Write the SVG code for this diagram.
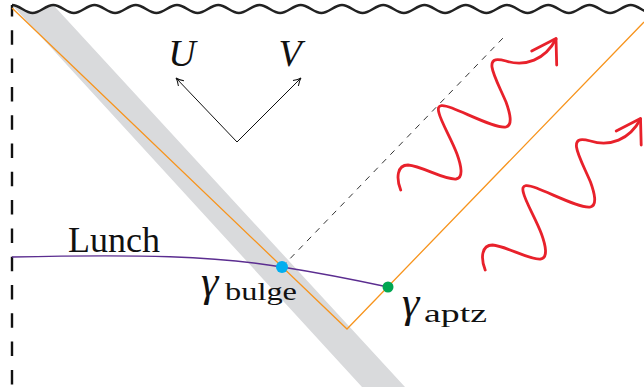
<svg xmlns="http://www.w3.org/2000/svg" xmlns:xlink="http://www.w3.org/1999/xlink" width="644" height="387" viewBox="0 0 644 387">
<style>
.orange{fill:none;stroke:#F7941D;stroke-width:1.3}
.red{fill:none;stroke:#E8212B;stroke-width:2.8;stroke-linecap:round;stroke-linejoin:round}
.lbl{font-family:"Liberation Serif","Times New Roman",serif;fill:#111}
.it{font-style:italic}
</style>
<defs>
<marker id="ah" markerUnits="userSpaceOnUse" viewBox="-9 -5 10 10" refX="0" refY="0" markerWidth="10" markerHeight="10" orient="auto">
<path d="M-7.5,-3.8 C-4.5,-1.6 -1.6,-0.3 0,0 C-1.6,0.3 -4.5,1.6 -7.5,3.8" fill="none" stroke="#111" stroke-width="1"/>
</marker>
<g id="wavearrow">
<path class="red" d="M400.7,190 C396,178 397,165 408,165 C422,166 444,180 456,179 C464,178 461,165 457,154 C452,140 441,122 439,113 C436,103 444,105 452,108 C470,115 497,129 506,127 C513,125 510,113 506,102 C500,88 493,75 492,67 C491,58 498,59 506,61 C525,67 545,60 556,39"/>
<path class="red" d="M531.7,51 L556,38.5 L556.7,65"/>
</g>
</defs>
<rect width="644" height="387" fill="#fff"/>
<g id="band">
<path d="M12,5 C19.5,5 25.1,13 32.6,13 C40.1,13 45.8,5 53.3,5 L405,387 L362,387 Z" fill="#D9DADC"/>
</g>
<g id="boundaries">
<path id="singularity" d="M12,5 C19.5,5 25.125,13 32.625,13 S45.75,5 53.25,5 S66.375,13 73.875,13 S87,5 94.5,5 S107.625,13 115.125,13 S128.25,5 135.75,5 S148.875,13 156.375,13 S169.5,5 177,5 S190.125,13 197.625,13 S210.75,5 218.25,5 S231.375,13 238.875,13 S252,5 259.5,5 S272.625,13 280.125,13 S293.25,5 300.75,5 S313.875,13 321.375,13 S334.5,5 342,5 S355.125,13 362.625,13 S375.75,5 383.25,5 S396.375,13 403.875,13 S417,5 424.5,5 S437.625,13 445.125,13 S458.25,5 465.75,5 S478.875,13 486.375,13 S499.5,5 507,5 S520.125,13 527.625,13 S540.75,5 548.25,5 S561.375,13 568.875,13 S582,5 589.5,5 S602.625,13 610.125,13 S623.25,5 630.75,5 S643.875,13 651.375,13" fill="none" stroke="#222" stroke-width="2.6"/>
<line id="origin" x1="12" y1="5" x2="12" y2="387" stroke="#111" stroke-width="2.4" stroke-dasharray="14.5 13.8" stroke-dashoffset="3"/>
</g>
<g id="connectors">
<path class="orange" d="M12,8 L347,329 L644,22"/>
<line x1="282" y1="267" x2="503" y2="38" stroke="#333" stroke-width="1" stroke-dasharray="6 6"/>
<path d="M12,257 C140,254 215,256 282,267 C320,273 360,281 388,287" fill="none" stroke="#5B2D90" stroke-width="1.3"/>
<line x1="237" y1="142" x2="176" y2="78" stroke="#111" stroke-width="1" marker-end="url(#ah)"/>
<line x1="237" y1="142" x2="301" y2="78" stroke="#111" stroke-width="1" marker-end="url(#ah)"/>
</g>
<g id="radiation">
<use xlink:href="#wavearrow"/>
<use xlink:href="#wavearrow" transform="translate(84.5,80)"/>
</g>
<g id="gamma-bulge">
<circle cx="282" cy="267" r="6" fill="#00AEEF"/>
<text class="lbl it" x="201" y="296" font-size="44">γ</text>
<text class="lbl" x="225" y="300" font-size="25" textLength="72" lengthAdjust="spacingAndGlyphs">bulge</text>
</g>
<g id="gamma-aptz">
<circle cx="388" cy="287" r="5.5" fill="#00A651"/>
<text class="lbl it" x="402" y="317" font-size="44">γ</text>
<text class="lbl" x="424" y="322" font-size="25" textLength="63" lengthAdjust="spacingAndGlyphs">aptz</text>
</g>
<g id="labels">
<text class="lbl" x="68" y="252" font-size="36">Lunch</text>
<text class="lbl it" x="182" y="66" font-size="38" text-anchor="middle">U</text>
<text class="lbl it" x="290" y="66" font-size="38" text-anchor="middle">V</text>
</g>
</svg>
